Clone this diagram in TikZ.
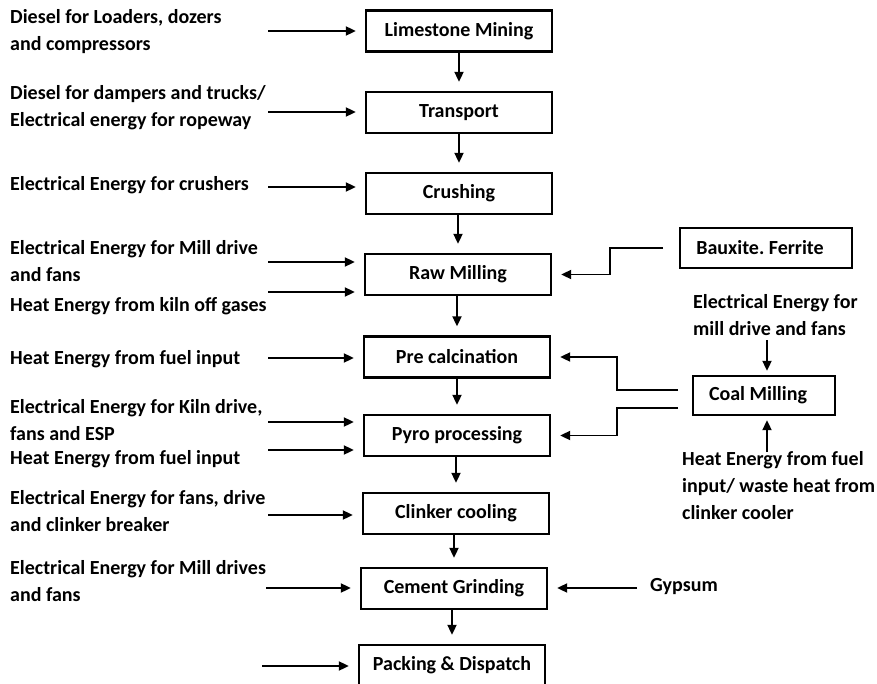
\documentclass[tikz,border=0pt]{standalone}
\usepackage{fontspec}
\setmainfont{Carlito}
\usetikzlibrary{arrows.meta}
\frenchspacing

\begin{document}
\begin{tikzpicture}[x=1pt,y=-1pt,
  font=\bfseries\fontsize{20}{27}\selectfont,
  proc/.style={draw, line width=2.3pt, minimum width=186pt, minimum height=41pt, inner sep=0pt},
  sidebox/.style={draw, line width=2.3pt, minimum height=40pt, inner sep=0pt},
  flow/.style={line width=1.8pt, -{Triangle[length=10pt,width=9pt]}, shorten >=9pt},
  feed/.style={line width=1.8pt, -{Triangle[length=10pt,width=9pt]}, shorten >=4pt},
  lbl/.style={anchor=north west, align=left, inner sep=0pt},
]
\useasboundingbox (0,0) rectangle (877,684);

% main process chain
\node[proc] (lime)  at (459,31)    {Limestone Mining};
\node[proc] (trans) at (459,112.5) {Transport};
\node[proc] (crush) at (459,193.5) {Crushing};
\node[proc] (raw)   at (458,274.5) {Raw Milling};
\node[proc] (pre)   at (457,357)   {Pre calcination};
\node[proc] (pyro)  at (457,435.5) {Pyro processing};
\node[proc] (clink) at (456,513.5) {Clinker cooling};
\node[proc] (cem)   at (454,588.5) {Cement Grinding};
\node[proc] (pack)  at (452,665.5) {Packing \& Dispatch};

% straight drops between consecutive steps
\foreach \a/\b in {lime/trans, trans/crush, crush/raw, raw/pre, pre/pyro,
                   pyro/clink, clink/cem, cem/pack}
  \draw[flow] (\b.north |- \a.south) -- (\b.north);

% energy inputs on the left
\node[lbl] (t1)  at (10,9.5)   {Diesel for Loaders, dozers\\and compressors};
\node[lbl] (t2)  at (10,85)    {Diesel for dampers and trucks/\\Electrical energy for ropeway};
\node[lbl] (t3)  at (10,176.5) {Electrical Energy for crushers};
\node[lbl] (t4)  at (10,240.5) {Electrical Energy for Mill drive\\and fans};
\node[lbl] (t5)  at (10,297.5) {Heat Energy from kiln off gases};
\node[lbl] (t6)  at (10,350.5) {Heat Energy from fuel input};
\node[lbl] (t7)  at (10,399.5) {Electrical Energy for Kiln drive,\\fans and ESP};
\node[lbl] (t8)  at (10,450.5) {Heat Energy from fuel input};
\node[lbl] (t9)  at (10,490.5) {Electrical Energy for fans, drive\\and clinker breaker};
\node[lbl] (t10) at (10,560.5) {Electrical Energy for Mill drives\\and fans};

\coordinate (s1)  at (268,31);
\coordinate (s2)  at (268,112);
\coordinate (s3)  at (268,187);
\coordinate (s4)  at (268,262);
\coordinate (s5)  at (268,292);
\coordinate (s6)  at (268,358);
\coordinate (s7)  at (268,422);
\coordinate (s8)  at (268,450);
\coordinate (s9)  at (268,515);
\coordinate (s10) at (266,588);
\coordinate (s11) at (262,666);

\draw[flow] (s1)  -- (s1 -| lime.west);
\draw[flow] (s2)  -- (s2 -| trans.west);
\draw[flow] (s3)  -- (s3 -| crush.west);
\draw[flow] (s4)  -- (s4 -| raw.west);
\draw[flow] (s5)  -- (s5 -| raw.west);
\draw[flow] (s6)  -- (s6 -| pre.west);
\draw[flow] (s7)  -- (s7 -| pyro.west);
\draw[flow] (s8)  -- (s8 -| pyro.west);
\draw[flow] (s9)  -- (s9 -| clink.west);
\draw[flow] (s10) -- (s10 -| cem.west);
\draw[flow] (s11) -- (s11 -| pack.west);

% additives and coal on the right
\node[sidebox, minimum width=172pt] (baux) at (766,248) {\hspace*{-12pt}Bauxite. Ferrite};
\node[sidebox, minimum width=142pt, minimum height=39pt] (coal) at (764,395.5) {\hspace*{-12pt}Coal Milling};
\node[lbl] (elec) at (693,294.5) {Electrical Energy for\\mill drive and fans};
\node[lbl] (heat) at (682,451) {Heat Energy from fuel\\input/ waste heat from\\clinker cooler};
\node[anchor=west, inner sep=0pt] (gyp) at (650,587) {Gypsum};

\coordinate (bx)  at (663,248);
\coordinate (cm1) at (678,390);
\coordinate (cm2) at (678,408);
\coordinate (gy)  at (637,588);

\draw[flow] (bx) -- (610,248) |- (raw.east);
\draw[flow] (cm1) -- (617,390) |- (pre.east);
\draw[flow] (cm2) -- (617,408) |- (pyro.east);
\draw[flow] (gy) -- (gy -| cem.east);

\coordinate (ce) at (767,340);
\coordinate (ch) at (767,452);
\draw[feed] (ce) -- (ce |- coal.north);
\draw[feed] (ch) -- (ch |- coal.south);
\end{tikzpicture}
\end{document}
